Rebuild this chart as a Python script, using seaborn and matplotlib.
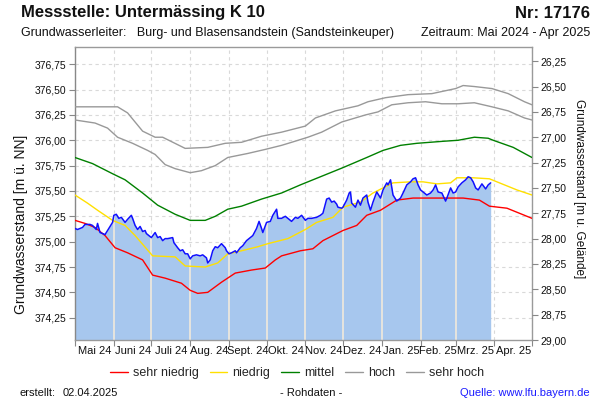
import numpy as np
import pandas as pd
import matplotlib
matplotlib.use("Agg")
import matplotlib.pyplot as plt
import matplotlib.dates as mdates
from matplotlib.ticker import FixedLocator, FixedFormatter, NullFormatter, FuncFormatter
import seaborn as sns

START = pd.Timestamp("2024-05-01")
END = pd.Timestamp("2025-05-01")
GROUND = 403.03  # Geländehöhe [m ü. NN]

# ---- data: days since 2024-05-01, levels in m ü. NN ----
sehr_hoch_days = [0, 34, 42, 54, 64, 70, 88, 106, 120, 133, 149, 165, 184, 192, 208, 226, 234, 248, 266, 285,
                  304, 310, 319, 333, 346, 359, 365]
sehr_hoch_vals = [376.33, 376.33, 376.27, 376.09, 376.03, 376.03, 375.92, 375.93, 375.97, 375.98, 376.04, 376.08,
                  376.14, 376.22, 376.29, 376.34, 376.38, 376.42, 376.45, 376.46, 376.51, 376.54, 376.53, 376.51,
                  376.46, 376.38, 376.35]

hoch_days = [0, 16, 26, 34, 46, 58, 64, 72, 80, 92, 101, 112, 122, 138, 152, 165, 173, 186, 197, 213, 232, 242,
             253, 266, 280, 293, 306, 319, 333, 346, 359, 365]
hoch_vals = [376.20, 376.17, 376.12, 376.03, 375.97, 375.90, 375.86, 375.76, 375.72, 375.68, 375.70, 375.75,
             375.83, 375.87, 375.91, 375.95, 375.98, 376.03, 376.08, 376.18, 376.25, 376.28, 376.35, 376.37,
             376.38, 376.36, 376.36, 376.37, 376.33, 376.29, 376.22, 376.20]

mittel_days = [0, 14, 30, 40, 54, 66, 80, 92, 104, 112, 122, 133, 149, 165, 180, 198, 214, 233, 246, 260, 273,
               294, 306, 319, 330, 334, 350, 365]
mittel_vals = [375.83, 375.77, 375.67, 375.61, 375.48, 375.36, 375.27, 375.21, 375.21, 375.25, 375.32, 375.35,
               375.42, 375.48, 375.56, 375.65, 375.73, 375.83, 375.90, 375.95, 375.97, 375.99, 376.00, 376.03,
               376.02, 376.00, 375.93, 375.83]

niedrig_days = [0, 10, 18, 30, 40, 48, 62, 80, 88, 104, 114, 122, 133, 146, 154, 170, 184, 193, 206, 214, 228,
                238, 254, 268, 278, 289, 300, 305, 318, 331, 339, 353, 365]
niedrig_vals = [375.46, 375.38, 375.31, 375.21, 375.16, 375.06, 374.86, 374.85, 374.76, 374.75, 374.79, 374.88,
                374.91, 374.95, 374.98, 375.03, 375.12, 375.19, 375.24, 375.34, 375.39, 375.48, 375.58, 375.59,
                375.59, 375.57, 375.58, 375.63, 375.63, 375.62, 375.58, 375.51, 375.46]

sehr_niedrig_days = [0, 8, 16, 24, 32, 42, 54, 62, 72, 85, 92, 98, 106, 117, 128, 141, 152, 160, 165, 180, 190,
                     198, 214, 225, 233, 244, 257, 270, 281, 310, 323, 331, 345, 365]
sehr_niedrig_vals = [375.21, 375.18, 375.14, 375.06, 374.94, 374.89, 374.82, 374.67, 374.64, 374.59, 374.52,
                     374.49, 374.50, 374.60, 374.69, 374.72, 374.74, 374.82, 374.86, 374.91, 374.93, 375.01,
                     375.11, 375.16, 375.26, 375.31, 375.41, 375.43, 375.43, 375.43, 375.41, 375.35, 375.33, 375.23]

mess_days = [0, 2, 6, 8, 12, 14, 17, 18, 20, 22, 24, 26, 30, 31, 33, 35, 37, 40, 42, 45,
             46, 48, 50, 52, 54, 56, 57, 59, 61, 64, 66, 68, 70, 72, 74, 78, 79, 82, 84, 86,
             88, 90, 92, 94, 97, 100, 102, 105, 106, 108, 110, 112, 114, 117, 120, 121, 123, 125, 128, 129,
             132, 134, 137, 140, 142, 145, 147, 149, 150, 153, 156, 158, 161, 162, 165, 168, 170, 173, 176, 178,
             181, 184, 186, 189, 193, 196, 198, 201, 203, 205, 207, 209, 210, 213, 214, 217, 219, 220, 221, 224,
             226, 228, 230, 233, 234, 236, 238, 241, 244, 246, 249, 250, 252, 254, 257, 260, 262, 265, 268, 270,
             272, 274, 276, 278, 281, 284, 286, 288, 290, 293, 296, 297, 300, 302, 304, 306, 309, 312, 314, 316,
             318, 320, 322, 325, 328, 330, 332]
mess_vals = [375.13, 375.12, 375.14, 375.17, 375.17, 375.16, 375.12, 375.18, 375.09, 375.08,
             375.07, 375.11, 375.19, 375.26, 375.27, 375.23, 375.24, 375.19, 375.22, 375.26,
             375.23, 375.16, 375.12, 375.15, 375.10, 375.11, 375.08, 375.06, 375.04, 375.09,
             375.04, 375.05, 375.01, 375.03, 375.03, 375.04, 374.99, 374.94, 374.91, 374.92,
             374.88, 374.88, 374.83, 374.86, 374.87, 374.86, 374.87, 374.84, 374.79, 374.82,
             374.91, 374.95, 374.94, 374.98, 374.94, 374.91, 374.88, 374.89, 374.91, 374.89,
             374.94, 374.96, 375.01, 375.04, 375.06, 375.13, 375.20, 375.13, 375.09, 375.19,
             375.20, 375.26, 375.32, 375.23, 375.23, 375.25, 375.23, 375.20, 375.24, 375.23,
             375.26, 375.21, 375.23, 375.23, 375.24, 375.26, 375.28, 375.42, 375.43, 375.39,
             375.40, 375.37, 375.34, 375.33, 375.34, 375.41, 375.48, 375.49, 375.38, 375.34,
             375.41, 375.36, 375.43, 375.46, 375.39, 375.31, 375.39, 375.49, 375.43, 375.51,
             375.58, 375.56, 375.61, 375.46, 375.40, 375.43, 375.48, 375.56, 375.59, 375.62,
             375.63, 375.56, 375.51, 375.49, 375.46, 375.48, 375.51, 375.56, 375.49, 375.48,
             375.40, 375.43, 375.53, 375.48, 375.49, 375.54, 375.58, 375.61, 375.64, 375.63,
             375.59, 375.53, 375.51, 375.57, 375.52, 375.56, 375.58]

month_labels = ["Mai 24", "Juni 24", "Juli 24", "Aug. 24", "Sept. 24", "Okt. 24", "Nov. 24",
                "Dez. 24", "Jan. 25", "Feb. 25", "Mrz. 25", "Apr. 25"]
left_ticks = [374.25, 374.50, 374.75, 375.00, 375.25, 375.50, 375.75, 376.00, 376.25, 376.50, 376.75]
right_ticks = [26.25, 26.50, 26.75, 27.00, 27.25, 27.50, 27.75, 28.00, 28.25, 28.50, 28.75, 29.00]
series_names = ["sehr niedrig", "niedrig", "mittel", "hoch", "sehr hoch"]
YLIM = (374.03, 376.92)

# ---- styling ----
sns.set_theme(style="white")
plt.rcParams["font.family"] = ["Liberation Sans", "DejaVu Sans"]
plt.rcParams["axes.unicode_minus"] = False


def to_dates(days):
    return START + pd.to_timedelta(np.asarray(days), unit="D")


fig = plt.figure(figsize=(6, 4), dpi=100)
fig.patch.set_facecolor("white")
ax = fig.add_axes([75 / 600, 60 / 400, 457 / 600, 293 / 400])
ax.set_facecolor("white")

# grid
ax.set_axisbelow(True)
ax.grid(True, which="major", color="#d9d9d9", linestyle=(0, (3, 3)), linewidth=0.8)

# measured data fill
mess_dates = to_dates(mess_days)
poly = ax.fill_between(mess_dates, mess_vals, YLIM[0], color="#a7c7ee", linewidth=0, zorder=1)

# month boundaries
bounds = pd.date_range(START, END, freq="MS")
mids = bounds[:-1] + (bounds[1:] - bounds[:-1]) / 2

clip_path = poly.get_paths()[0]
for b in bounds[1:-1]:
    ln = ax.axvline(b, color="#ebe7dd", linewidth=1.3, zorder=1.5)
    ln.set_clip_path(clip_path, ax.transData)

colors = {"sehr niedrig": "#ff0000", "niedrig": "#ffe000", "mittel": "#008000",
          "hoch": "#999999", "sehr hoch": "#999999"}
series = {"sehr niedrig": (sehr_niedrig_days, sehr_niedrig_vals),
          "niedrig": (niedrig_days, niedrig_vals),
          "mittel": (mittel_days, mittel_vals),
          "hoch": (hoch_days, hoch_vals),
          "sehr hoch": (sehr_hoch_days, sehr_hoch_vals)}
for name in series_names:
    d, v = series[name]
    sns.lineplot(x=to_dates(d), y=v, ax=ax, color=colors[name], linewidth=1.0, label=name, zorder=3)

sns.lineplot(x=mess_dates, y=mess_vals, ax=ax, color="#1010ff", linewidth=1.1, zorder=4, legend=False)

handles, labels = ax.get_legend_handles_labels()
if ax.get_legend() is not None:
    ax.get_legend().remove()

ax.set_xlim(START, END)
ax.set_ylim(*YLIM)
ax.set_xlabel("")
ax.set_ylabel("")

ax.xaxis.set_major_locator(FixedLocator(mdates.date2num(bounds)))
ax.xaxis.set_major_formatter(NullFormatter())
ax.xaxis.set_minor_locator(FixedLocator(mdates.date2num(mids)))
ax.xaxis.set_minor_formatter(FixedFormatter(month_labels))
ax.tick_params(axis="x", which="major", bottom=True, length=4, width=0.8, color="#888888")
ax.tick_params(axis="x", which="minor", bottom=True, length=0, labelsize=8, pad=4, labelcolor="#111111")

fmt = FuncFormatter(lambda v, p: f"{v:.2f}".replace(".", ","))
ax.yaxis.set_major_locator(FixedLocator(left_ticks))
ax.yaxis.set_major_formatter(fmt)
ax.tick_params(axis="y", which="major", left=True, length=4, width=0.8, color="#888888",
               labelsize=7.5, pad=2, labelcolor="#111111")

for s in ax.spines.values():
    s.set_color("#9a9a9a")
    s.set_linewidth(1.0)
ax.spines["left"].set_color("#888888")

# right axis (m u. Gelände)
ax2 = ax.twinx()
ax2.set_ylim(GROUND - YLIM[0], GROUND - YLIM[1])
ax2.yaxis.set_major_locator(FixedLocator(right_ticks))
ax2.yaxis.set_major_formatter(fmt)
ax2.tick_params(axis="y", which="major", right=True, length=4, width=0.8, color="#888888",
                labelsize=7.5, pad=2, labelcolor="#111111")
ax2.grid(False)
for s in ax2.spines.values():
    s.set_visible(False)

# axis titles
fig.text(21 / 600, 1 - 224 / 400, "Grundwasserstand [m ü. NN]", rotation=90,
         ha="center", va="center", fontsize=10, color="#111111")
fig.text(579 / 600, 1 - 189 / 400, "Grundwasserstand [m u. Gelände]", rotation=-90,
         ha="center", va="center", fontsize=8.5, color="#111111")

# header
fig.text(21 / 600, 1 - 13 / 400, "Messstelle: Untermässing K 10", ha="left", va="center",
         fontsize=12, fontweight="bold", color="#111111")
fig.text(590 / 600, 1 - 13 / 400, "Nr: 17176", ha="right", va="center",
         fontsize=12, fontweight="bold", color="#111111")
fig.text(21 / 600, 1 - 33 / 400, "Grundwasserleiter:   Burg- und Blasensandstein (Sandsteinkeuper)",
         ha="left", va="center", fontsize=9, color="#111111")
fig.text(590 / 600, 1 - 33 / 400, "Zeitraum: Mai 2024 - Apr 2025", ha="right", va="center",
         fontsize=9, color="#111111")

# legend
fig.legend(handles, labels, loc="center", bbox_to_anchor=(0.495, 1 - 373 / 400), ncol=5,
           frameon=False, fontsize=9, handlelength=1.4, handletextpad=0.4, columnspacing=0.9,
           borderaxespad=0, borderpad=0)

# footer
fig.text(20 / 600, 1 - 393 / 400, "erstellt:", ha="left", va="center", fontsize=8, color="#111111")
fig.text(63 / 600, 1 - 393 / 400, "02.04.2025", ha="left", va="center", fontsize=8, color="#111111")
fig.text(311 / 600, 1 - 393 / 400, "- Rohdaten -", ha="center", va="center", fontsize=8, color="#111111")
fig.text(590 / 600, 1 - 393 / 400, "Quelle: www.lfu.bayern.de", ha="right", va="center",
         fontsize=8, color="#1a1aff")

fig.savefig("out.png", dpi=100, facecolor="white")
